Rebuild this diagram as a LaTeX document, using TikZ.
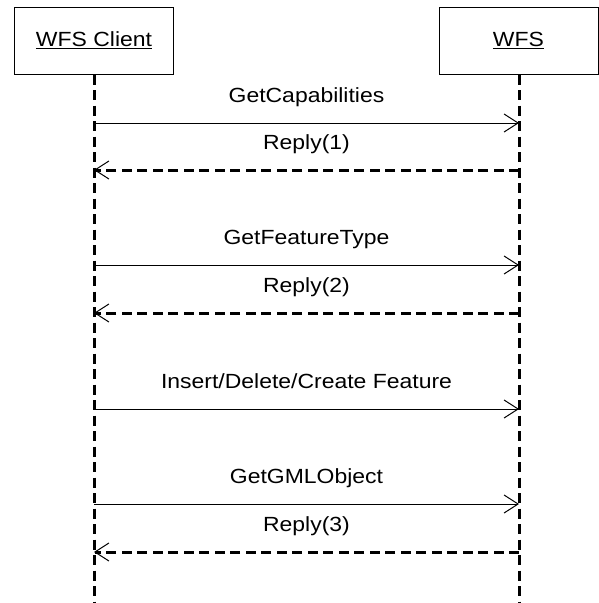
\documentclass[tikz,border=0pt]{standalone}
\usepackage{fontspec}
\setmainfont{Liberation Sans}[FakeStretch=1.12]
\usetikzlibrary{arrows.meta,positioning,calc}

\begin{document}
\begin{tikzpicture}[x=1pt, y=-1pt,
    actor/.style={rectangle, draw, line width=1pt, minimum width=159pt, minimum height=67pt, inner sep=0pt, font=\fontsize{20.5}{24}\selectfont},
    lifeline/.style={line width=3pt, dash pattern=on 10pt off 5.5pt},
    call/.style={-{Straight Barb[length=14pt, width=18pt, line width=1pt]}, line width=1pt},
    reply/.style={call, line width=3pt, dash pattern=on 10pt off 5.5pt},
    msg/.style={font=\fontsize{20.5}{24}\selectfont, anchor=base, yshift=20.5pt}
  ]
    \useasboundingbox (0,0) rectangle (598,603);

    \node[actor] (client) at (94,40.5) {\underline{WFS Client}};
    \node[actor] (wfs) at (518.5,40.5) {\underline{WFS}};

    % lifelines
    \coordinate (clientend) at (94,603);
    \coordinate (wfsend) at (519,603);
    \draw[lifeline] (client.south) -- (clientend);
    \draw[lifeline] (wfs.south -| wfsend) -- (wfsend);

    % message points on the lifelines
    \coordinate (c1) at (94,123);  \coordinate (w1) at (519,123);
    \coordinate (c2) at (94,170);  \coordinate (w2) at (519,170);
    \coordinate (c3) at (94,265);  \coordinate (w3) at (519,265);
    \coordinate (c4) at (94,313);  \coordinate (w4) at (519,313);
    \coordinate (c5) at (94,409);  \coordinate (w5) at (519,409);
    \coordinate (c6) at (94,504);  \coordinate (w6) at (519,504);
    \coordinate (c7) at (94,552);  \coordinate (w7) at (519,552);

    \draw[call] (c1) -- node[msg] {GetCapabilities} (w1);
    \draw[reply] (w2) -- node[msg] {Reply(1)} (c2);
    \draw[call] (c3) -- node[msg] {GetFeatureType} (w3);
    \draw[reply] (w4) -- node[msg] {Reply(2)} (c4);
    \draw[call] (c5) -- node[msg] {Insert/Delete/Create Feature} (w5);
    \draw[call] (c6) -- node[msg] {GetGMLObject} (w6);
    \draw[reply] (w7) -- node[msg] {Reply(3)} (c7);
\end{tikzpicture}
\end{document}
